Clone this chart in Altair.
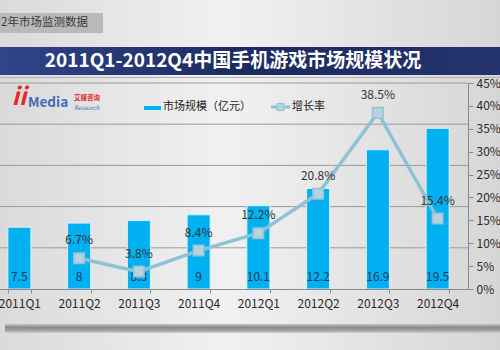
import altair as alt
import pandas as pd

categories = ["2011Q1", "2011Q2", "2011Q3", "2011Q4", "2012Q1", "2012Q2", "2012Q3", "2012Q4"]
market_size = [7.5, 8, 8.3, 9, 10.1, 12.2, 16.9, 19.5]
growth = [None, 6.7, 3.8, 8.4, 12.2, 20.8, 38.5, 15.4]
left_grid = [5, 10, 15, 20, 25]
right_ticks = [0, 5, 10, 15, 20, 25, 30, 35, 40, 45]

df = pd.DataFrame({"q": categories, "size": market_size, "growth": growth})
df["size_label"] = [f"{v:g}" for v in market_size]
df["growth_label"] = [("" if g is None or pd.isna(g) else f"{g:.1f}%") for g in growth]

FONT = "Noto Sans CJK SC"
W, H = 468, 206

xscale = alt.Scale(domain=categories, range=[-10.5, 467.5], paddingInner=0.615, paddingOuter=0.3075)
yl = alt.Scale(domain=[0, 25])
yr = alt.Scale(domain=[0, 45])

one = alt.Data(values=[{"a": 1}])

def box(x1, x2, y1, y2, color, **kw):
    return alt.Chart(one).mark_rect(color=color, **kw).encode(
        x=alt.value(x1), x2=alt.value(x2), y=alt.value(y1), y2=alt.value(y2))

def label(txt, x, y, size, color, **kw):
    return alt.Chart(one).mark_text(text=txt, fontSize=size, color=color, font=FONT,
                                    baseline="middle", **kw).encode(x=alt.value(x), y=alt.value(y))

bg = box(0, 500, -83, 267, alt.Gradient(
    gradient="linear", x1=0, x2=1, y1=0, y2=0,
    stops=[alt.GradientStop(offset=0, color="#dadada"),
           alt.GradientStop(offset=0.45, color="#f1f1f1"),
           alt.GradientStop(offset=1, color="#d6d6d6")]))

header_box = box(0, 103, -70, -50, "#b9b9b9")
header_txt = label("2年市场监测数据", 1, -60, 11.5, "#3a3a3a", align="left")

banner = box(0, 500, -36, -8, alt.Gradient(
    gradient="linear", x1=0, x2=1, y1=0, y2=0,
    stops=[alt.GradientStop(offset=0, color="#2f4489"),
           alt.GradientStop(offset=0.5, color="#1d2a5f"),
           alt.GradientStop(offset=1, color="#24336e")]))
banner_line = box(0, 500, -6, -5, "#b0b0b0")
title = label("2011Q1-2012Q4中国手机游戏市场规模状况", 233, -22, 19, "white", align="center", fontWeight="bold")

logo_ii = label("ii", 19, 15, 24, "#e02a2a", align="center", fontWeight="bold", fontStyle="italic")
logo_media = label("Media", 28, 20, 13.5, "#3d6db5", align="left", fontWeight="bold")
logo_cn = label("艾媒咨询", 74, 15, 6.5, "#e02a2a", align="left", fontWeight="bold")
logo_en = label("Research", 74, 24.5, 6, "#3d6db5", align="left", fontStyle="italic")

leg_rect = box(144, 161, 23, 27, "#00b0f0")
leg_txt1 = label("市场规模（亿元）", 163, 24, 11, "#222222", align="left")
leg_line = alt.Chart(one).mark_rule(color="#8fc1d5", strokeWidth=3).encode(
    x=alt.value(271), x2=alt.value(290), y=alt.value(24))
leg_sq = alt.Chart(one).mark_point(shape="square", filled=True, size=49, color="#b3d3e0",
                                  stroke="#8fc1d5", strokeWidth=1, opacity=1).encode(
    x=alt.value(280.5), y=alt.value(24))
leg_txt2 = label("增长率", 292, 24, 11, "#222222", align="left")

strip = box(5, 500, 241, 250, alt.Gradient(
    gradient="linear", x1=0, x2=0, y1=0, y2=1,
    stops=[alt.GradientStop(offset=0, color="#c8c8c8"),
           alt.GradientStop(offset=0.35, color="#8a8a8a"),
           alt.GradientStop(offset=0.7, color="#a0a0a0"),
           alt.GradientStop(offset=1, color="#d0d0d0")]))

grid = alt.Chart(pd.DataFrame({"g": left_grid})).mark_rule(color="#9a9a9a", strokeWidth=1).encode(
    y=alt.Y("g:Q", scale=yl, axis=None),
    x=alt.value(0), x2=alt.value(W))

base = alt.Chart(df)

bars = base.mark_bar(color="#00b0f0", stroke="#d8f1fb", strokeWidth=1).encode(
    x=alt.X("q:N", scale=xscale, sort=categories, title=None,
            axis=alt.Axis(labelFont=FONT, labelFontSize=12, labelColor="#2a2a2a", labelAngle=0,
                          tickBand="extent", tickSize=4, tickColor="#8a8a8a", domainColor="#8a8a8a",
                          labelPadding=5, zindex=1)),
    y=alt.Y("size:Q", scale=yl, axis=None))

bar_labels = base.mark_text(font=FONT, fontSize=12, color="#1f3a60", baseline="middle", dy=-12).encode(
    x=alt.X("q:N", scale=xscale, sort=categories),
    y=alt.YDatum(0, scale=yl, axis=None),
    text="size_label:N")

gdf = base.transform_filter("datum.growth != null")

line = gdf.mark_line(color="#8fc1d5", strokeWidth=3.5).encode(
    x=alt.X("q:N", scale=xscale, sort=categories),
    y=alt.Y("growth:Q", scale=yr, title=None,
            axis=alt.Axis(orient="right", values=right_ticks, labelExpr="datum.value + '%'",
                          labelFont=FONT, labelFontSize=12, labelColor="#2a2a2a",
                          tickSize=5, tickColor="#8a8a8a", domainColor="#8a8a8a",
                          grid=False, labelPadding=3, zindex=1)))

points = gdf.mark_point(shape="square", filled=True, size=110, color="#b5d3df", stroke="#93c3d6",
                        strokeWidth=1.5, opacity=1).encode(
    x=alt.X("q:N", scale=xscale, sort=categories),
    y=alt.Y("growth:Q", scale=yr, axis=None))

growth_labels = gdf.mark_text(font=FONT, fontSize=12, color="#333333", baseline="middle", dy=-18).encode(
    x=alt.X("q:N", scale=xscale, sort=categories),
    y=alt.Y("growth:Q", scale=yr, axis=None),
    text="growth_label:N")

chart = alt.layer(
    bg, header_box, header_txt, banner, banner_line, title,
    logo_ii, logo_media, logo_cn, logo_en,
    leg_rect, leg_txt1, leg_line, leg_sq, leg_txt2,
    strip, grid, bars, bar_labels, line, points, growth_labels
).resolve_scale(y="independent").properties(
    width=W, height=H,
    autosize=alt.AutoSizeParams(type="none"),
    padding={"left": 0, "top": 83, "right": 32, "bottom": 61},
    background="#e6e6e6"
).configure_view(stroke=None)

chart.save("out.html", embed_options={"renderer": "svg", "actions": False})
